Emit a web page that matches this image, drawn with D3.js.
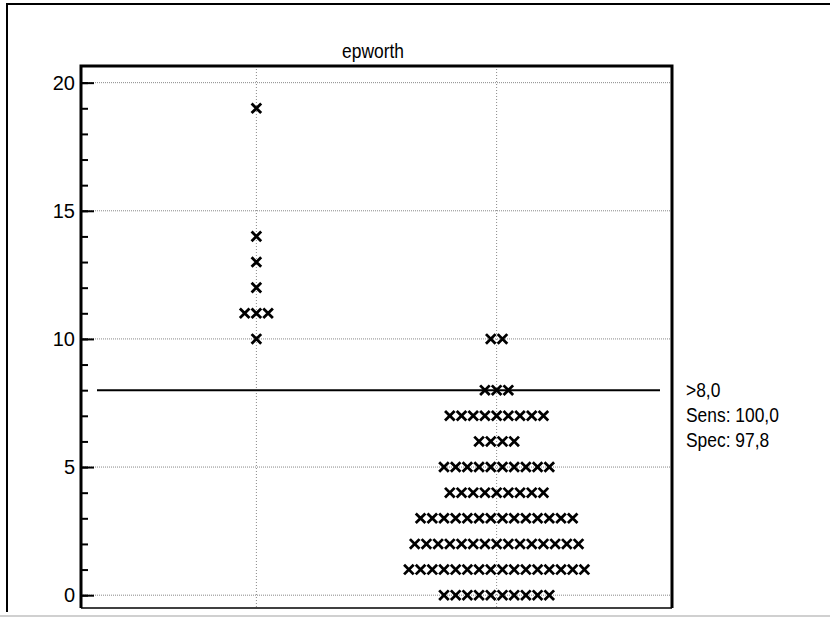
<!DOCTYPE html>
<html>
<head>
<meta charset="utf-8">
<script src="https://cdn.jsdelivr.net/npm/d3@7"></script>
<style>
  body { margin: 0; background: #fff; }
  text { font-family: "Liberation Sans", Arial, sans-serif; fill: #000; }
</style>
</head>
<body>
<div id="chart"></div>
<script>
// dot plot of epworth score per group, with cut-off line

const groups = ["positive", "negative"];
// score values and how many cases sit on each score
const posScores = [19, 14, 13, 12, 11, 10];
const posCounts = [1, 1, 1, 1, 3, 1];
const negScores = [10, 8, 7, 6, 5, 4, 3, 2, 1, 0];
const negCounts = [2, 3, 9, 4, 10, 9, 14, 15, 16, 10];
const yTicks = [0, 5, 10, 15, 20];
const cutOff = 8;
const cutLabels = [">8,0", "Sens: 100,0", "Spec: 97,8"];
const title = "epworth";

const W = 830, H = 618;
const plot = {left: 81, right: 672, top: 66, bottom: 608};
const narrow = 0.87;   // the original font is a bit condensed

const svg = d3.select("#chart").append("svg")
    .attr("width", W)
    .attr("height", H);

let y = d3.scaleLinear()
    .domain([-0.5, 20.65])
    .range([plot.bottom, plot.top]);

let x = d3.scalePoint()
    .domain(groups)
    .range([plot.left, plot.right])
    .padding(0.73);

const dotStep = 11.7;

// outer frame
svg.append("line").attr("x1", 7).attr("x2", W).attr("y1", 4).attr("y2", 4)
    .attr("stroke", "#000").attr("stroke-width", 2);
svg.append("line").attr("x1", 7).attr("x2", 7).attr("y1", 3).attr("y2", 612)
    .attr("stroke", "#000").attr("stroke-width", 2);
svg.append("line").attr("x1", 0).attr("x2", W).attr("y1", 616).attr("y2", 616)
    .attr("stroke", "#d0d0d0").attr("stroke-width", 2);

// title
svg.append("text")
    .attr("transform", `translate(373,58) scale(${narrow},1)`)
    .attr("text-anchor", "middle")
    .style("font-size", "20px")
    .text(title);

// grid lines
svg.selectAll(".hgrid")
    .data(yTicks)
    .enter()
    .append("line")
    .attr("x1", plot.left).attr("x2", plot.right)
    .attr("y1", d => y(d)).attr("y2", d => y(d))
    .attr("stroke", "#888")
    .attr("stroke-width", 1)
    .attr("stroke-dasharray", "1,1");

svg.selectAll(".vgrid")
    .data(groups)
    .enter()
    .append("line")
    .attr("x1", d => x(d)).attr("x2", d => x(d))
    .attr("y1", plot.top).attr("y2", plot.bottom)
    .attr("stroke", "#888")
    .attr("stroke-width", 1)
    .attr("stroke-dasharray", "1,2");

// y axis, ticks pointing inward
const yMajor = d3.axisRight(y).tickValues(yTicks).tickSize(13).tickFormat("");
const yMinor = d3.axisRight(y).tickValues(d3.range(0, 21)).tickSize(7).tickFormat("");

const gMinor = svg.append("g").attr("transform", `translate(${plot.left},0)`).call(yMinor);
const gMajor = svg.append("g").attr("transform", `translate(${plot.left},0)`).call(yMajor);
[gMinor, gMajor].forEach(g => {
    g.select(".domain").remove();
    g.selectAll("line").attr("stroke", "#000").attr("stroke-width", 2);
});

svg.selectAll(".ylab")
    .data(yTicks)
    .enter()
    .append("text")
    .attr("x", plot.left - 6)
    .attr("y", d => y(d))
    .attr("dy", "0.36em")
    .attr("text-anchor", "end")
    .style("font-size", "20px")
    .text(d => d);

// cut-off line
svg.append("line")
    .attr("x1", plot.left + 16).attr("x2", 660)
    .attr("y1", y(cutOff)).attr("y2", y(cutOff))
    .attr("stroke", "#000")
    .attr("stroke-width", 2);

svg.selectAll(".cutlab")
    .data(cutLabels)
    .enter()
    .append("text")
    .attr("transform", (d, i) => `translate(686,${y(cutOff) + i * 25}) scale(${narrow},1)`)
    .attr("dy", "0.36em")
    .style("font-size", "20px")
    .text(d => d);

// dots: one x marker per case, centred on the group line
function spread(group, scores, counts) {
    let pts = [];
    scores.forEach((s, i) => {
        const n = counts[i];
        for (let k = 0; k < n; k++) {
            pts.push({group: group, value: s, offset: (k - (n - 1) / 2) * dotStep});
        }
    });
    return pts;
}
const points = spread(groups[0], posScores, posCounts)
    .concat(spread(groups[1], negScores, negCounts));

const cross = d3.symbol(d3.symbolX, 62);

svg.selectAll(".dot")
    .data(points)
    .enter()
    .append("path")
    .attr("d", cross)
    .attr("transform", d => `translate(${x(d.group) + d.offset},${y(d.value)})`)
    .attr("fill", "none")
    .attr("stroke", "#000")
    .attr("stroke-width", 2.8);

// plot frame
svg.append("path")
    .attr("d", `M${plot.left},${plot.bottom} V${plot.top} H${plot.right} V${plot.bottom}`)
    .attr("fill", "none")
    .attr("stroke", "#000")
    .attr("stroke-width", 3);
svg.append("line")
    .attr("x1", plot.left).attr("x2", plot.right)
    .attr("y1", plot.bottom).attr("y2", plot.bottom)
    .attr("stroke", "#000")
    .attr("stroke-width", 1.5);
</script>
</body>
</html>
